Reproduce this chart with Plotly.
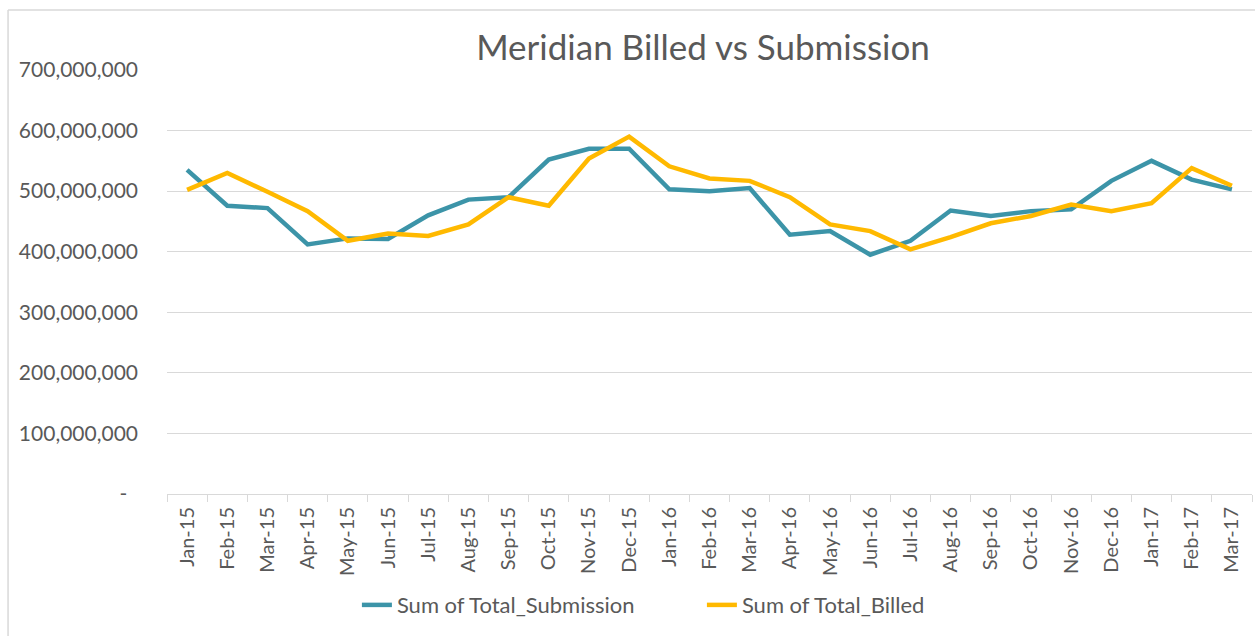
import plotly.graph_objects as go

months = ["Jan-15", "Feb-15", "Mar-15", "Apr-15", "May-15", "Jun-15", "Jul-15", "Aug-15", "Sep-15",
          "Oct-15", "Nov-15", "Dec-15", "Jan-16", "Feb-16", "Mar-16", "Apr-16", "May-16", "Jun-16",
          "Jul-16", "Aug-16", "Sep-16", "Oct-16", "Nov-16", "Dec-16", "Jan-17", "Feb-17", "Mar-17"]

total_submission = [535e6, 476e6, 472e6, 412e6, 422e6, 421e6, 460e6, 486e6, 490e6,
                    552e6, 570e6, 570e6, 503e6, 500e6, 505e6, 428e6, 434e6, 395e6,
                    418e6, 468e6, 459e6, 467e6, 470e6, 517e6, 550e6, 519e6, 503e6]

total_billed = [502e6, 530e6, 499e6, 467e6, 418e6, 430e6, 426e6, 445e6, 490e6,
                476e6, 554e6, 590e6, 541e6, 521e6, 517e6, 490e6, 445e6, 434e6,
                404e6, 424e6, 447e6, 459e6, 478e6, 467e6, 480e6, 538e6, 509e6]

y_tick_values = [0, 100e6, 200e6, 300e6, 400e6, 500e6, 600e6, 700e6]
y_tick_labels = ["-\u00a0\u00a0", "100,000,000", "200,000,000", "300,000,000", "400,000,000",
                 "500,000,000", "600,000,000", "700,000,000"]

FONT = "Lato"
TEXT = "#595959"
GRID = "#d9d9d9"

fig = go.Figure()
fig.add_trace(go.Scatter(x=months, y=total_submission, mode="lines", name="Sum of Total_Submission",
                         line=dict(color="#3C94A8", width=4.5)))
fig.add_trace(go.Scatter(x=months, y=total_billed, mode="lines", name="Sum of Total_Billed",
                         line=dict(color="#FFB900", width=4.5)))

fig.update_layout(
    width=1255, height=636,
    margin=dict(l=167, r=3, t=70, b=142),
    paper_bgcolor="white", plot_bgcolor="white",
    font=dict(family=FONT, color=TEXT),
    title=dict(text="Meridian Billed vs Submission", x=703 / 1255, xref="container", xanchor="center",
               y=1 - 48 / 636, yref="container", yanchor="middle",
               font=dict(family=FONT, size=35, color=TEXT)),
    showlegend=True,
    legend=dict(orientation="h", x=0.493, xanchor="center", y=-0.262, yanchor="middle",
                entrywidth=300, entrywidthmode="pixels",
                font=dict(family=FONT, size=22, color=TEXT), bgcolor="rgba(0,0,0,0)"),
    xaxis=dict(type="category", range=[-0.5, len(months) - 0.5], tickson="boundaries",
               ticks="outside", ticklen=7, tickcolor=GRID,
               tickwidth=1, showline=True, linecolor=GRID, linewidth=1, showgrid=False,
               tickangle=-90, tickfont=dict(family=FONT, size=20, color=TEXT), ticklabelstandoff=4),
    yaxis=dict(range=[0, 700e6], tickvals=y_tick_values, ticktext=y_tick_labels,
               showgrid=True, gridcolor=GRID, gridwidth=1, zeroline=False, showline=False,
               tickfont=dict(family=FONT, size=21, color=TEXT), ticklabelstandoff=28),
    shapes=[
        dict(type="line", xref="paper", yref="paper", x0=-0.1465, x1=-0.1465, y0=1.1415, y1=-0.36,
             line=dict(color=GRID, width=1.5)),
        dict(type="line", xref="paper", yref="paper", x0=-0.1465, x1=1.01, y0=1.1415, y1=1.1415,
             line=dict(color=GRID, width=1.5)),
    ],
)

fig.write_html("out.html", config={"displayModeBar": False},
               post_script="document.body.style.margin='0px';")
